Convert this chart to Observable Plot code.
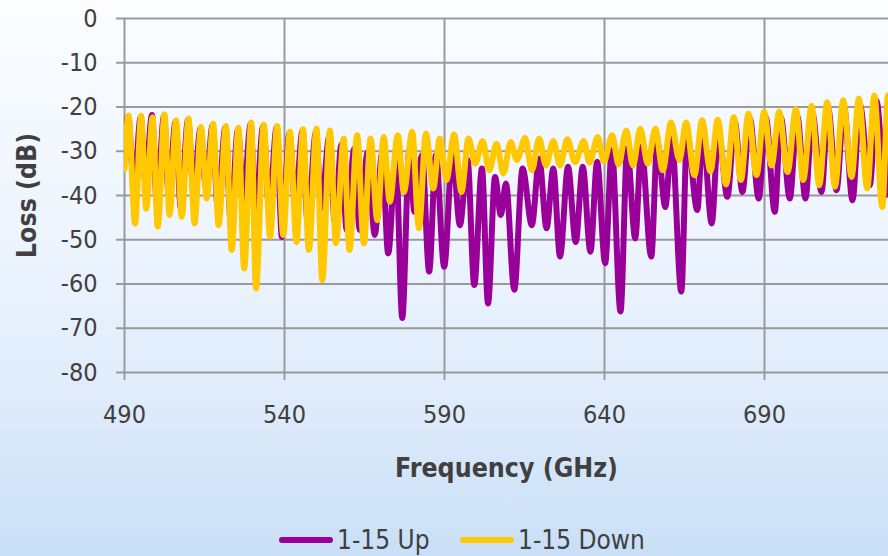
<!DOCTYPE html>
<html>
<head>
<meta charset="utf-8">
<script src="https://cdn.jsdelivr.net/npm/d3@7"></script>
<script src="https://cdn.jsdelivr.net/npm/@observablehq/plot@0.6"></script>
<style>
  html, body { margin: 0; padding: 0; }
  body {
    width: 888px; height: 556px; overflow: hidden; position: relative;
    background: linear-gradient(to bottom, #FBFDFF 0%, #EEF5FE 40%, #E0ECFB 70%, #C9DFF7 100%);
    font-family: Tahoma, "DejaVu Sans Condensed", "DejaVu Sans", sans-serif;
    color: #404040;
  }
  #chart { position: absolute; left: 0; top: 0; }
  #legend { position: absolute; left: 0; top: 524px; width: 888px; height: 32px; }
  .item { position: absolute; top: 0; height: 32px; display: flex; align-items: center; font-size: 26px; color: #404040; white-space: nowrap; }
  .sw { width: 54px; height: 6px; border-radius: 3px; margin-right: 4px; }
</style>
</head>
<body>
<div id="chart"></div>
<div id="legend"></div>
<script>
// ---- data ----
const seriesNames = ["1-15 Up", "1-15 Down"];
const seriesColors = ["#990099", "#FFC800"];
const xTicks = [490, 540, 590, 640, 690];
const yTicks = [0, -10, -20, -30, -40, -50, -60, -70, -80];

// 1-15 Up : frequency (GHz) of successive peaks / troughs and loss (dB)
const upFreq = [
  490.0, 491.1, 493.0, 495.05, 496.5, 498.6, 500.1, 502.35, 503.8, 505.95,
  507.6, 509.85, 511.6, 513.75, 515.4, 517.55, 519.1, 521.55, 523.2, 525.45,
  527.1, 529.45, 530.8, 533.35, 535.2, 537.55, 539.2, 541.55, 543.3, 545.65,
  547.2, 549.85, 551.4, 554.05, 555.7, 557.8, 559.4, 561.8, 563.5, 566.0,
  568.2, 570.5, 572.4, 574.8, 576.8, 579.0, 580.6, 583.0, 585.2, 587.3,
  589.9, 592.5, 594.8, 597.2, 599.3, 601.7, 603.6, 605.8, 607.6, 609.2,
  611.8, 614.4, 617.3, 619.6, 621.9, 624.0, 626.1, 628.6, 631.0, 633.2,
  635.6, 637.7, 640.2, 642.3, 645.0, 647.1, 649.6, 651.5, 654.6, 656.5,
  659.0, 661.0, 664.0, 665.8, 669.0, 670.7, 673.5, 675.6, 678.4, 680.7,
  683.1, 685.4, 688.2, 690.4, 693.2, 695.1, 697.9, 700.2, 702.8, 705.0,
  707.8, 709.9, 712.5, 714.8, 717.5, 719.8, 722.9, 725.0, 727.8, 729.5
];
const upLoss = [
  -31, -22.2, -38.1, -22.3, -37, -21.8, -41.6, -22.0, -40, -23.3,
  -43, -22.9, -39.2, -24.8, -38, -24.1, -42.6, -24.6, -46, -25.0,
  -41, -23.8, -45, -24.3, -42.9, -24.6, -49.4, -25.9, -42, -25.3,
  -46, -25.6, -42.9, -26.5, -46, -28.5, -47.8, -29.4, -47.8, -30.2,
  -48.9, -30.5, -53.1, -31.3, -67.7, -29.8, -43.7, -30.9, -57.2, -30.9,
  -56.1, -30.2, -46.7, -32.0, -60.2, -33.9, -64.4, -35.8, -44.4, -37.3,
  -61.3, -33.9, -46.7, -31.7, -47.4, -33.9, -53.8, -33.5, -50.5, -33.5,
  -52.7, -32.4, -55.3, -29.8, -66.2, -29.4, -49.7, -29.0, -53.8, -27.9,
  -42.6, -27.1, -61.7, -26.4, -43.3, -25.6, -46.3, -25.6, -40.3, -23.4,
  -39.2, -22.6, -40.7, -22.3, -43.7, -22.3, -40.7, -21.9, -40.7, -21.5,
  -39.2, -20.4, -38.8, -19.8, -41.1, -19.5, -37.7, -18.6, -40, -18.5
];

// 1-15 Down
const downFreq = [
  490.0, 491.25, 493.3, 495.2, 496.8, 498.75, 500.4, 502.5, 504.1, 506.1,
  507.9, 510.0, 511.9, 513.9, 515.7, 517.7, 519.4, 521.7, 523.5, 525.6,
  527.4, 529.6, 531.1, 533.5, 535.5, 537.7, 539.6, 541.7, 543.75, 545.8,
  547.6, 550.0, 551.8, 554.2, 556.1, 558.5, 560.3, 562.7, 564.8, 566.9,
  569.0, 571.0, 572.9, 575.4, 577.3, 579.9, 582.0, 584.2, 586.5, 588.5,
  590.6, 593.0, 595.3, 597.5, 599.6, 601.9, 604.0, 606.25, 608.4, 610.7,
  612.6, 615.2, 617.3, 619.6, 621.7, 624.0, 626.1, 628.4, 630.8, 633.5,
  635.3, 637.9, 639.8, 642.4, 644.4, 646.8, 648.9, 651.2, 653.5, 655.9,
  658.2, 660.8, 663.4, 665.5, 668.1, 670.5, 673.1, 675.4, 678.0, 680.4,
  682.6, 685.0, 687.5, 689.9, 692.2, 694.6, 697.2, 699.8, 702.1, 704.7,
  707.1, 709.6, 712.0, 714.6, 717.2, 719.5, 722.1, 724.3, 726.8, 728.6,
  731.0
];
const downLoss = [
  -34, -21.9, -46.3, -22.0, -43.0, -22.3, -47.0, -21.7, -44.4, -23.0,
  -44.8, -22.6, -46.3, -24.5, -40.7, -23.8, -46.7, -24.3, -52.3, -24.7,
  -56.5, -23.5, -61.0, -24.0, -49.3, -24.3, -48.9, -25.6, -50.5, -25.0,
  -52.3, -24.9, -59.1, -25.3, -50.8, -27.1, -52.3, -26.4, -50.8, -27.1,
  -45.6, -26.8, -41.4, -26.4, -39.2, -25.6, -47.4, -26.0, -38.4, -27.1,
  -36.5, -26.2, -39.2, -27.1, -32.8, -27.7, -34.3, -28.3, -35.0, -27.9,
  -32.0, -27.0, -34.3, -27.1, -33.2, -27.7, -33.2, -27.3, -32.5, -27.7,
  -32.6, -26.8, -32.3, -26.4, -33.0, -25.3, -33.2, -24.9, -32.8, -24.9,
  -34.3, -23.5, -32.0, -23.5, -35.4, -23.0, -34.5, -22.9, -37.5, -22.3,
  -36.5, -21.5, -35.4, -21.1, -33.2, -21.1, -34.7, -20.5, -36.5, -19.8,
  -37.7, -18.9, -38.0, -18.5, -35.8, -18.1, -38.4, -17.4, -42.6, -17.4,
  -38
];

// ---- build tables for Plot ----
const upData = upFreq.map((f, i) => ({f, loss: upLoss[i]}));
const downData = downFreq.map((f, i) => ({f, loss: downLoss[i]}));

const font = 'Tahoma, "DejaVu Sans Condensed", "DejaVu Sans", sans-serif';
const grid = "#9A9A9A";
const fmt = d => String(d);

const chart = Plot.plot({
  width: 888,
  height: 500,
  marginLeft: 124,
  marginRight: 0,
  marginTop: 18,
  marginBottom: 128,
  style: {background: "transparent", fontFamily: font, fontSize: "25px", color: "#404040", overflow: "visible"},
  x: {domain: [490, 728.75], ticks: xTicks, tickFormat: fmt},
  y: {domain: [-80, 0], ticks: yTicks, tickFormat: fmt},
  marks: [
    Plot.gridY(yTicks, {stroke: grid, strokeOpacity: 1, strokeWidth: 2}),
    Plot.gridX(xTicks, {stroke: grid, strokeOpacity: 1, strokeWidth: 2}),
    Plot.axisY(yTicks, {tickSize: 8, tickPadding: 19, stroke: grid, strokeWidth: 2, fill: "#404040", fontSize: 25, tickFormat: fmt, label: null}),
    Plot.axisX(xTicks, {tickSize: 8, tickPadding: 25, stroke: grid, strokeWidth: 2, fill: "#404040", fontSize: 25, tickFormat: fmt, label: null}),
    Plot.line(upData, {x: "f", y: "loss", stroke: seriesColors[0], strokeWidth: 6, curve: "monotone-x", clip: true, strokeLinejoin: "round"}),
    Plot.line(downData, {x: "f", y: "loss", stroke: seriesColors[1], strokeWidth: 6, curve: "monotone-x", clip: true, strokeLinejoin: "round"}),
    Plot.text(["Loss (dB)"], {frameAnchor: "left", dx: -97, rotate: -90, textAnchor: "middle", lineAnchor: "middle", fontWeight: "bold", fontSize: 26.5, fill: "#404040"}),
    Plot.text(["Frequency (GHz)"], {frameAnchor: "bottom", dy: 96, textAnchor: "middle", lineAnchor: "middle", fontWeight: "bold", fontSize: 26.5, fill: "#404040"})
  ]
});
document.getElementById("chart").appendChild(chart);

// ---- legend ----
const legend = document.getElementById("legend");
const lefts = [279, 460];
seriesNames.forEach((name, i) => {
  const item = document.createElement("div");
  item.className = "item";
  item.style.left = lefts[i] + "px";
  const sw = document.createElement("div");
  sw.className = "sw";
  sw.style.background = seriesColors[i];
  const t = document.createElement("span");
  t.textContent = name;
  item.appendChild(sw);
  item.appendChild(t);
  legend.appendChild(item);
});
</script>
</body>
</html>
